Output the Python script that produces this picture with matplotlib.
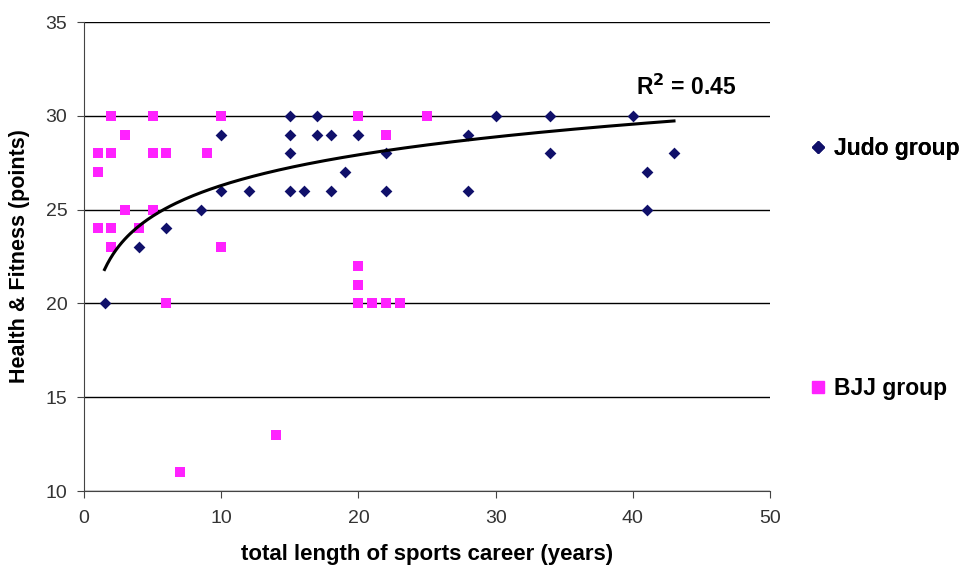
import numpy as np
import matplotlib.pyplot as plt
from matplotlib.lines import Line2D

# Judo group (years, points)
judo_x = [1.5, 4, 6, 8.5, 10, 10, 12, 15, 15, 15, 15, 16, 17, 17, 18, 18, 19,
          20, 22, 22, 28, 28, 30, 34, 34, 40, 41, 41, 43]
judo_y = [20, 23, 24, 25, 26, 29, 26, 30, 29, 28, 26, 26, 30, 29, 29, 26, 27,
          29, 28, 26, 29, 26, 30, 30, 28, 30, 27, 25, 28]

# BJJ group (years, points)
bjj_x = [1, 1, 1, 2, 2, 2, 2, 3, 3, 4, 5, 5, 5, 6, 6, 7, 9, 10, 10, 14,
         20, 20, 20, 20, 21, 22, 22, 23, 25]
bjj_y = [28, 27, 24, 30, 28, 24, 23, 29, 25, 24, 30, 28, 25, 28, 20, 11, 28, 30, 23, 13,
         30, 22, 21, 20, 20, 20, 29, 20, 30]

# log trend y = a*ln(x) + b, coefficients
trend_a = 2.36
trend_b = 20.85
r2_text = "R$^\\mathbf{2}$ = 0.45"

plt.rcParams['font.family'] = ['Liberation Sans', 'DejaVu Sans']

fig = plt.figure(figsize=(9.64, 5.72), dpi=100)
ax = fig.add_axes([0.0871, 0.1416, 0.7117, 0.8199])

navy = "#10106a"
pink = "#ff22ff"

ax.scatter(bjj_x, bjj_y, marker="s", s=60, color=pink, zorder=3, linewidths=0)
ax.scatter(judo_x, judo_y, marker="D", s=36, color=navy, zorder=4, linewidths=0)

jx = np.array(judo_x)
tx = np.linspace(jx.min(), jx.max(), 200)
ax.plot(tx, trend_a * np.log(tx) + trend_b, color="black", lw=2.2, zorder=5)

ax.text(40.2, 31.5, r2_text, fontsize=16.5, fontweight="bold", va="center", ha="left")

ax.set_xlim(0, 50)
ax.set_ylim(10, 35)
ax.set_xticks(range(0, 51, 10))
ax.set_yticks(range(10, 36, 5))
ax.grid(axis="y", color="black", lw=1)
ax.set_axisbelow(True)
for s in ["top", "right"]:
    ax.spines[s].set_visible(False)
ax.spines["left"].set_color("#444444")
ax.spines["bottom"].set_color("#444444")
ax.tick_params(labelsize=14, length=5, color="#444444", colors="#333333")
ax.tick_params(axis="x", pad=9)
ax.tick_params(axis="y", pad=7)

ax.set_xlabel("total length of sports career (years)", fontsize=16, fontweight="bold", labelpad=12)
ax.set_ylabel("Health & Fitness (points)", fontsize=15.5, fontweight="bold", labelpad=11)

h1 = Line2D([], [], marker="D", ls="", color=navy, markersize=6)
h2 = Line2D([], [], marker="s", ls="", color=pink, markersize=8)
leg1 = fig.legend(handles=[h1], labels=["Judo group"], loc="center left",
                  bbox_to_anchor=(0.815, 1 - 149 / 572), frameon=False,
                  prop={"size": 16.5, "weight": "bold"}, handletextpad=0.2, handlelength=1)
fig.add_artist(leg1)
fig.legend(handles=[h2], labels=["BJJ group"], loc="center left",
           bbox_to_anchor=(0.815, 1 - 389 / 572), frameon=False,
           prop={"size": 16.5, "weight": "bold"}, handletextpad=0.2, handlelength=1)

fig.savefig("out.png", dpi=100)
